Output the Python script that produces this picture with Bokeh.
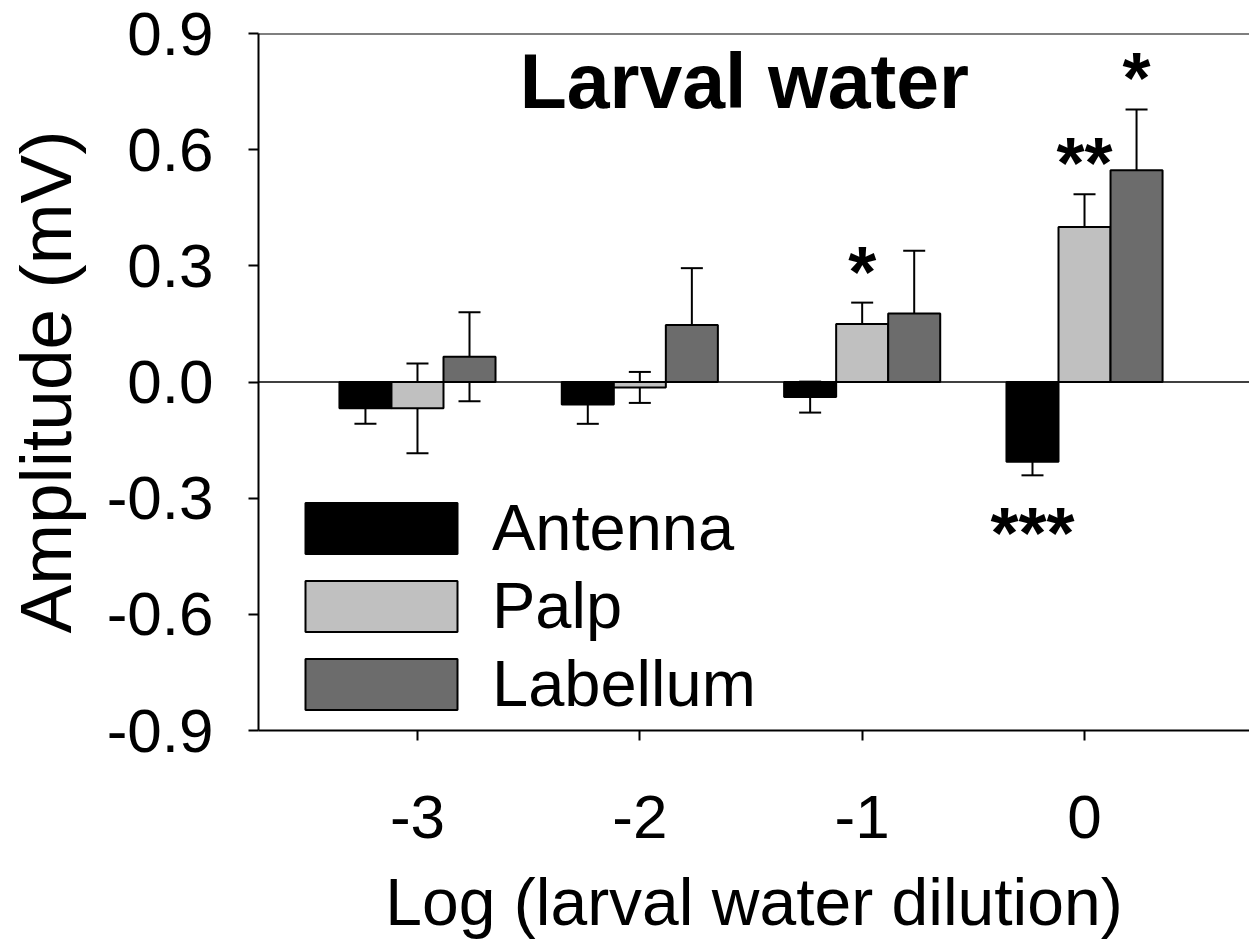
import numpy as np
from bokeh.plotting import figure
from bokeh.models import (ColumnDataSource, Whisker, TeeHead, Span, Label,
                          Legend, LegendItem, FixedTicker)
from bokeh.core.properties import value
from bokeh.embed import file_html
from bokeh.resources import INLINE

# ---------------- data ----------------
dilution = [-3, -2, -1, 0]
series = ["Antenna", "Palp", "Labellum"]
antenna_mean = [-0.068, -0.058, -0.039, -0.206]
antenna_err = [0.040, 0.050, 0.040, 0.035]
palp_mean = [-0.068, -0.014, 0.150, 0.400]
palp_err = [0.116, 0.040, 0.055, 0.085]
labellum_mean = [0.065, 0.147, 0.177, 0.547]
labellum_err = [0.115, 0.147, 0.162, 0.157]

y_ticks = [-0.9, -0.6, -0.3, 0.0, 0.3, 0.6, 0.9]
y_tick_labels = ["-0.9", "-0.6", "-0.3", "0.0", "0.3", "0.6", "0.9"]
x_tick_labels = ["-3", "-2", "-1", "0"]

sig_dilution = [-1, 0, 0, 0]
sig_series = ["Palp", "Palp", "Labellum", "Antenna"]
sig_text = ["*", "**", "*", "***"]

# ---------------- style ----------------
FONT = "Liberation Sans"
colors = ["#000000", "#c0c0c0", "#6c6c6c"]
offsets = [-0.234, 0.0, 0.234]
bar_width = 0.234

means = [antenna_mean, palp_mean, labellum_mean]
errs = [antenna_err, palp_err, labellum_err]

p = figure(width=1249, height=947, x_range=(-3.715, 0.742), y_range=(-0.9, 0.9),
           output_backend="svg", toolbar_location=None,
           min_border_left=258, min_border_top=33, min_border_bottom=217,
           min_border_right=0)
p.outline_line_color = None
p.xgrid.visible = False
p.ygrid.visible = False

renderers = []
for name, m, e, off, col in zip(series, means, errs, offsets, colors):
    x = [d + off for d in dilution]
    src = ColumnDataSource(dict(x=x, top=m,
                                upper=[a + b for a, b in zip(m, e)],
                                lower=[a - b for a, b in zip(m, e)]))
    r = p.vbar(x="x", top="top", bottom=0, width=bar_width, source=src,
               fill_color=col, line_color="black", line_width=2)
    renderers.append(r)
    w = Whisker(base="x", upper="upper", lower="lower", source=src,
                line_color="black", line_width=2,
                upper_head=TeeHead(size=22, line_width=2, line_color="black"),
                lower_head=TeeHead(size=22, line_width=2, line_color="black"))
    p.add_layout(w)

p.add_layout(Span(location=0, dimension="width", line_color="black", line_width=1.5))
p.add_layout(Span(location=0.9, dimension="width", line_color="black", line_width=2))

# significance stars
sx, sy = [], []
for d, s in zip(sig_dilution, sig_series):
    k = series.index(s)
    i = dilution.index(d)
    mval = means[k][i]
    ev = errs[k][i]
    sx.append(d + offsets[k])
    sy.append(mval + ev + 0.08 if mval > 0 else mval - ev - 0.15)
p.text(x=sx, y=sy, text=sig_text, text_align="center", text_baseline="middle",
       text_font=value(FONT), text_font_size="72px", text_font_style="bold",
       text_color="black")

title = Label(x=-1.53, y=0.9, y_offset=-4, text="Larval water",
              text_align="center", text_baseline="top", text_color="black",
              text_font=FONT, text_font_size="77px", text_font_style="bold")
p.add_layout(title)

# axes
p.xaxis.ticker = FixedTicker(ticks=dilution)
p.xaxis.major_label_overrides = {d: l for d, l in zip(dilution, x_tick_labels)}
p.yaxis.ticker = FixedTicker(ticks=y_ticks)
p.yaxis.major_label_overrides = {t: l for t, l in zip(y_ticks, y_tick_labels)}
for ax in (p.xaxis[0], p.yaxis[0]):
    ax.axis_line_width = 2
    ax.axis_line_color = "black"
    ax.major_tick_line_width = 2
    ax.major_tick_line_color = "black"
    ax.major_tick_in = 0
    ax.major_tick_out = 10
    ax.minor_tick_line_color = None
    ax.major_label_text_font = FONT
    ax.major_label_text_font_size = "62px"
    ax.major_label_text_color = "black"
    ax.axis_label_text_font = FONT
    ax.axis_label_text_font_style = "normal"
    ax.axis_label_text_color = "black"

p.xaxis.axis_label = "Log (larval water dilution)"
p.xaxis.axis_label_text_font_size = "66px"
p.xaxis.major_label_standoff = 55
p.xaxis.axis_label_standoff = 24
p.yaxis.axis_label = "Amplitude (mV)"
p.yaxis.axis_label_text_font_size = "73px"
p.yaxis.major_label_standoff = 35
p.yaxis.axis_label_standoff = 18

legend = Legend(items=[LegendItem(label=s, renderers=[r]) for s, r in zip(series, renderers)],
                location=(28, 9), glyph_width=190, glyph_height=64,
                label_text_font=FONT, label_text_font_size="65px",
                label_text_color="black",
                label_standoff=16, spacing=3, padding=0, margin=0,
                border_line_color=None, background_fill_alpha=0)
p.add_layout(legend, "center")

open("out.html", "w").write(file_html(p, INLINE))
